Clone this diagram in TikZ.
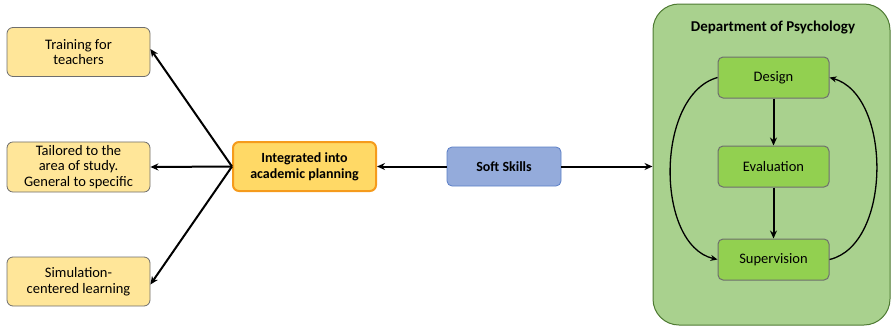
\documentclass[tikz,border=0pt]{standalone}
\usepackage{fontspec}
\setmainfont{Carlito}
\usetikzlibrary{arrows.meta}
\definecolor{ideafill}{HTML}{FFE699}
\definecolor{planfill}{HTML}{FFD966}
\definecolor{planline}{HTML}{F59B1C}
\definecolor{softfill}{HTML}{94ABDB}
\definecolor{softline}{HTML}{5B7FC7}
\definecolor{deptfill}{HTML}{A9D18E}
\definecolor{deptline}{HTML}{4E7A32}
\definecolor{stagefill}{HTML}{92D050}
\definecolor{boxline}{HTML}{6E6E6E}
\tikzset{
  idea/.style={draw=boxline, fill=ideafill, rounded corners=6pt, line width=0.8pt,
    minimum width=143pt, minimum height=49pt, align=center, font=\fontsize{14.5}{15.5}\selectfont},
  plan/.style={draw=planline, fill=planfill, rounded corners=6pt, line width=2pt,
    minimum width=143pt, minimum height=49pt, align=center, font=\bfseries\fontsize{14}{16}\selectfont},
  soft/.style={draw=softline, fill=softfill, rounded corners=5pt, line width=0.8pt,
    minimum width=114pt, minimum height=39pt, font=\bfseries\fontsize{14}{16}\selectfont},
  stage/.style={draw=boxline, fill=stagefill, rounded corners=5pt, line width=1pt,
    minimum width=111pt, minimum height=41pt, font=\fontsize{14.5}{16}\selectfont},
  link/.style={-{Stealth[length=8pt,width=7pt]}, line width=2pt},
  loop/.style={-{Stealth[length=7pt,width=6pt]}, line width=1.3pt}
}
\begin{document}
\begin{tikzpicture}[x=1pt,y=-1pt]
\useasboundingbox (0,0) rectangle (894,327);

% department container
\node[draw=deptline, fill=deptfill, rounded corners=26pt, line width=1pt,
      minimum width=237pt, minimum height=321pt, inner sep=0pt] (dept) at (771.5,164.5) {};
\node[font=\bfseries\fontsize{15}{17}\selectfont] (depttitle) at (773,28) {Department of Psychology};

% outcome boxes
\node[idea] (train) at (78.5,52) {Training for\\teachers};
\node[idea] (tailor) at (78.5,167) {Tailored to the\\area of study.\\General to specific};
\node[idea] (sim) at (78.5,281.5) {Simulation-\\centered learning};

% central boxes
\node[plan] (plan) at (304.5,166.5) {Integrated into\\academic planning};
\node[soft] (skills) at (504,166.5) {Soft Skills};

% stages
\node[stage] (design) at (773.5,77.5) {Design};
\node[stage] (eval) at (773.5,166.5) {Evaluation};
\node[stage] (super) at (773.5,259.5) {Supervision};

% fan-out from planning
\coordinate (hub) at (plan.west);
\draw[link] (hub) -- ([yshift=3pt]train.east);
\draw[link] (hub) -- (tailor.east);
\draw[link] (hub) -- ([yshift=-3pt]sim.east);

% skills links
\draw[link] (skills.west) -- (plan.east);
\draw[link] (skills.east) -- (skills.east -| dept.west);

% stage sequence
\draw[link] (design.south) -- (eval.north);
\draw[link] (eval.south) -- (super.north);

% feedback loops
\draw[loop] (design.west) .. controls (655,95) and (655,245) .. (super.west);
\draw[loop] (super.east) .. controls (892,245) and (892,95) .. (design.east);
\end{tikzpicture}
\end{document}
